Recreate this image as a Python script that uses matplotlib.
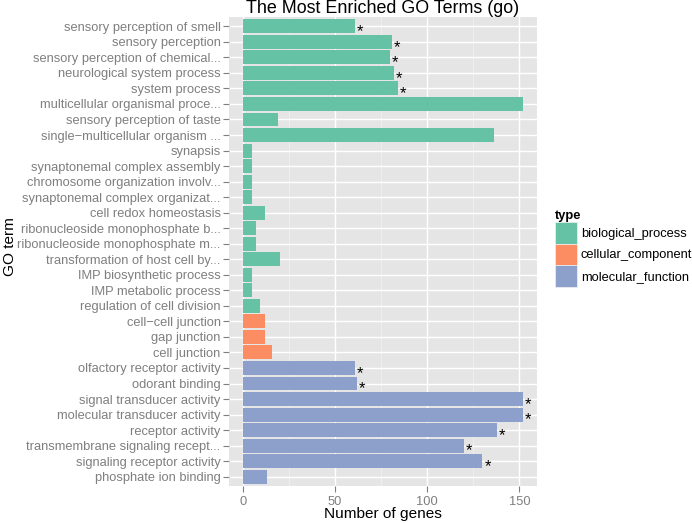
import matplotlib.pyplot as plt
from matplotlib.patches import Patch
from matplotlib.ticker import MultipleLocator

plt.rcParams['font.family'] = ['Liberation Sans', 'DejaVu Sans']

# GO terms, top to bottom as drawn
terms = [
    "sensory perception of smell",
    "sensory perception",
    "sensory perception of chemical...",
    "neurological system process",
    "system process",
    "multicellular organismal proce...",
    "sensory perception of taste",
    "single\u2212multicellular organism ...",
    "synapsis",
    "synaptonemal complex assembly",
    "chromosome organization involv...",
    "synaptonemal complex organizat...",
    "cell redox homeostasis",
    "ribonucleoside monophosphate b...",
    "ribonucleoside monophosphate m...",
    "transformation of host cell by...",
    "IMP biosynthetic process",
    "IMP metabolic process",
    "regulation of cell division",
    "cell\u2212cell junction",
    "gap junction",
    "cell junction",
    "olfactory receptor activity",
    "odorant binding",
    "signal transducer activity",
    "molecular transducer activity",
    "receptor activity",
    "transmembrane signaling recept...",
    "signaling receptor activity",
    "phosphate ion binding",
]
counts = [61, 81, 80, 82, 84, 152, 19, 136, 5, 5, 5, 5, 12, 7, 7, 20, 5, 5, 9,
          12, 12, 16, 61, 62, 152, 152, 138, 120, 130, 13]
types = (["biological_process"] * 19 + ["cellular_component"] * 3
         + ["molecular_function"] * 8)
starred = [1, 1, 1, 1, 1, 0, 0, 0, 0, 0, 0, 0, 0, 0, 0, 0, 0, 0, 0,
           0, 0, 0, 1, 1, 1, 1, 1, 1, 1, 0]

type_colors = {
    "biological_process": "#66C2A5",
    "cellular_component": "#FC8D62",
    "molecular_function": "#8DA0CB",
}

fig = plt.figure(figsize=(6.92, 5.23), dpi=100)
ax = fig.add_axes([229 / 692, 37 / 523, 308 / 692, 469 / 523])
ax.set_facecolor("#E5E5E5")

ypos = list(range(len(terms)))
ax.barh(ypos, counts, height=0.9, color=[type_colors[t] for t in types],
        zorder=3)
for y, c, s in zip(ypos, counts, starred):
    if s:
        ax.text(c + 1.0, y + 0.35, "*", ha="left", va="center", fontsize=12,
                color="black", zorder=4)

ax.set_xlim(-7.6, 159.6)
ax.set_ylim(len(terms) - 0.4, -0.6)
ax.set_xticks([0, 50, 100, 150])
ax.xaxis.set_minor_locator(MultipleLocator(25))
ax.set_yticks(ypos)
ax.set_yticklabels(terms)

ax.grid(which="major", color="white", linewidth=1.0, zorder=1)
ax.grid(which="minor", axis="x", color="#F2F2F2", linewidth=0.5, zorder=0.5)
ax.set_axisbelow(True)
for sp in ax.spines.values():
    sp.set_visible(False)
ax.tick_params(which="major", colors="#7F7F7F", labelsize=9.3, length=4,
               width=0.8, pad=2)
ax.tick_params(axis="x", pad=3)
ax.tick_params(which="minor", length=0)

ax.set_xlabel("Number of genes", fontsize=11.1, va="bottom")
ax.xaxis.set_label_coords(0.5, -0.0746)
ax.set_ylabel("GO term", fontsize=11.1)
ax.yaxis.set_label_coords(-0.688, 0.51)
ax.set_title("The Most Enriched GO Terms (go)", fontsize=12.9, pad=3)

handles = [Patch(facecolor=type_colors[k], edgecolor="#F2F2F2", linewidth=0.5,
                 label=k) for k in type_colors]
leg = fig.legend(handles=handles, loc="upper left",
                 bbox_to_anchor=(555 / 692, 1 - 210 / 523), frameon=False,
                 title="type", fontsize=9.3, alignment="left",
                 title_fontproperties={"weight": "bold", "size": 9.3},
                 handlelength=1.7, handleheight=2.2, labelspacing=0.0,
                 handletextpad=0.3, borderpad=0, borderaxespad=0)

fig.savefig("out.png", dpi=100)
